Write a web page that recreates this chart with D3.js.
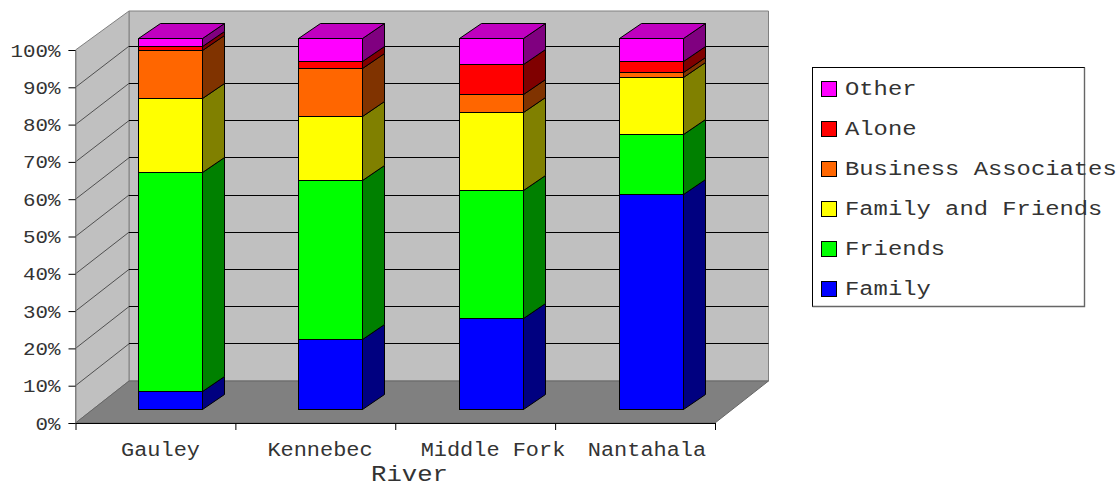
<!DOCTYPE html>
<html>
<head>
<meta charset="utf-8">
<title>River trip companions</title>
<script src="https://cdn.jsdelivr.net/npm/d3@7"></script>
<style>
    html, body { margin: 0; padding: 0; background: #fff; overflow: hidden; }
    text { font-family: "Liberation Mono", monospace; fill: #333; }
</style>
</head>
<body>
<script>
const rivers = ['Gauley', 'Kennebec', 'Middle Fork', 'Nantahala']
const groups = ['Family', 'Friends', 'Family and Friends', 'Business Associates', 'Alone', 'Other']

// share of each group per river, in percent
const family = [4.9, 18.8, 24.6, 58.0]
const friends = [59.0, 43.0, 34.5, 16.2]
const familyAndFriends = [19.9, 17.2, 21.0, 15.3]
const business = [12.9, 12.9, 4.8, 1.3]
const alone = [1.1, 1.9, 8.1, 3.0]
const other = [2.2, 6.2, 7.0, 6.2]

const percentTicks = [0, 10, 20, 30, 40, 50, 60, 70, 80, 90, 100]

const front_colors = ['#0000ff', '#00ff00', '#ffff00', '#ff6600', '#ff0000', '#ff00ff']
const side_colors = ['#000080', '#008000', '#808000', '#803300', '#800000', '#800080']
const top_color = '#c000c0'

const w = 1119, h = 483

// the box: front edge of the floor and how far the back wall is pushed away
const box = {left: 75.5, right: 715, floor: 423, top: 50, dx: 53.5, dy: -42, wallTop: 11}
const bar_depth = {dx: 22, dy: -15}

const svg = d3.select('body').append('svg')
    .attr('width', w)
    .attr('height', h)
    .style('display', 'block')

// monospace glyphs here are wider than the font's own pitch
function fit(sel, pitch) {
    sel.attr('textLength', function() { return this.textContent.length * pitch })
        .attr('lengthAdjust', 'spacingAndGlyphs')
}

function poly(pts) {
    return 'M' + pts.map(p => p.join(',')).join('L') + 'Z'
}

// keep 1px strokes on the pixel grid
function snap(v) {
    return Math.floor(v) + 0.5
}

let y_front = d3.scaleLinear().domain([0, 100]).range([box.floor, box.top])
let y_back = d3.scaleLinear().domain([0, 100]).range([box.floor + box.dy, 9])
let y_bar = d3.scaleLinear().domain([0, 100]).range([409.7, 38.3])

let x_axis = d3.scaleLinear().domain([0, rivers.length]).range([box.left, box.right])
let x_bar = d3.scaleBand().domain(rivers).range([90.2, 731.8]).paddingInner(0.6).paddingOuter(0.3)

const backLeft = box.left + box.dx
const backRight = box.right + box.dx
const backFloor = box.floor + box.dy

// walls and floor
svg.append('path')
    .attr('d', poly([[backLeft, box.wallTop], [backRight, box.wallTop], [backRight, backFloor], [backLeft, backFloor]]))
    .attr('fill', '#c0c0c0')
    .attr('stroke', '#808080')
    .attr('stroke-width', 1)

svg.append('path')
    .attr('d', poly([[box.left, box.top], [backLeft, box.wallTop], [backLeft, backFloor], [box.left, box.floor]]))
    .attr('fill', '#c0c0c0')
    .attr('stroke', '#808080')
    .attr('stroke-width', 1)

svg.append('path')
    .attr('d', poly([[box.left, box.floor], [box.right, box.floor], [backRight, backFloor], [backLeft, backFloor]]))
    .attr('fill', '#808080')
    .attr('stroke', '#666')
    .attr('stroke-width', 1)

// gridlines, along the left wall and then across the back
const inner = percentTicks.filter(d => d > 0 && d < 100)

svg.append('g').selectAll('line')
    .data(inner)
    .enter().append('line')
    .attr('x1', box.left)
    .attr('y1', d => y_front(d))
    .attr('x2', backLeft)
    .attr('y2', d => y_back(d))
    .attr('stroke', '#333')
    .attr('stroke-width', 0.8)

svg.append('g').selectAll('line')
    .data(inner)
    .enter().append('line')
    .attr('x1', backLeft)
    .attr('y1', d => snap(y_back(d)))
    .attr('x2', backRight)
    .attr('y2', d => snap(y_back(d)))
    .attr('stroke', '#000')
    .attr('stroke-width', 1)

// stacked columns
const rows = rivers.map((r, i) => ({
    river: r,
    'Family': family[i],
    'Friends': friends[i],
    'Family and Friends': familyAndFriends[i],
    'Business Associates': business[i],
    'Alone': alone[i],
    'Other': other[i],
}))

const stacked = d3.stack().keys(groups)(rows)

stacked.forEach((layer, k) => {
    let g = svg.append('g').attr('class', 'layer')

    layer.forEach(d => {
        let x0 = snap(x_bar(d.data.river))
        let x1 = x0 + Math.round(x_bar.bandwidth())
        let y0 = snap(y_bar(d[0]))
        let y1 = snap(y_bar(d[1]))

        g.append('path')
            .attr('d', poly([[x1, y0], [x1 + bar_depth.dx, y0 + bar_depth.dy], [x1 + bar_depth.dx, y1 + bar_depth.dy], [x1, y1]]))
            .attr('fill', side_colors[k])
            .attr('stroke', '#000')
            .attr('stroke-width', 1)

        g.append('rect')
            .attr('x', x0)
            .attr('y', y1)
            .attr('width', x1 - x0)
            .attr('height', y0 - y1)
            .attr('fill', front_colors[k])
            .attr('stroke', '#000')
            .attr('stroke-width', 1)

        // only the uppermost group shows a lid
        if (k === stacked.length - 1) {
            g.append('path')
                .attr('d', poly([[x0, y1], [x0 + bar_depth.dx, y1 + bar_depth.dy], [x1 + bar_depth.dx, y1 + bar_depth.dy], [x1, y1]]))
                .attr('fill', top_color)
                .attr('stroke', '#000')
                .attr('stroke-width', 1)
        }
    })
})

// value axis
let y_axis_g = svg.append('g')
    .attr('transform', `translate(${box.left},0)`)
    .call(d3.axisLeft(y_front).tickValues(percentTicks).tickSize(7).tickPadding(8).tickFormat(d => d + '%'))

y_axis_g.select('.domain').attr('stroke', '#808080')
y_axis_g.selectAll('text')
    .attr('font-size', 19)
    .attr('font-family', '"Liberation Mono", monospace')
    .call(fit, 12.5)

// category axis, ticks sit between the columns
let x_axis_g = svg.append('g')
    .attr('transform', `translate(0,${box.floor})`)
    .call(d3.axisBottom(x_axis).tickValues(d3.range(rivers.length + 1)).tickSize(7).tickSizeOuter(0).tickFormat(''))

x_axis_g.select('.domain').attr('stroke', '#000')

const label_x = [160.5, 320, 493, 647]

svg.append('g').selectAll('text')
    .data(rivers)
    .enter().append('text')
    .attr('x', (d, i) => label_x[i])
    .attr('y', 456)
    .attr('text-anchor', 'middle')
    .attr('font-size', 19.5)
    .text(d => d)
    .call(fit, 13.15)

svg.append('text')
    .attr('x', 409.5)
    .attr('y', 481)
    .attr('text-anchor', 'middle')
    .attr('font-size', 22)
    .text('River')
    .call(fit, 15.4)

// legend, upper group first
let legend = svg.append('g').attr('class', 'legend')

legend.append('rect')
    .attr('x', 812.5)
    .attr('y', 67.5)
    .attr('width', 272)
    .attr('height', 239)
    .attr('fill', '#fff')
    .attr('stroke', '#000')
    .attr('stroke-width', 1)

// softer right and bottom edge
legend.append('path')
    .attr('d', 'M1084.5,67.5V306.5H812.5')
    .attr('fill', 'none')
    .attr('stroke', '#666')
    .attr('stroke-width', 1.4)

const legend_rows = groups.map((g, k) => ({name: g, k: k})).reverse()

legend_rows.forEach((d, i) => {
    let yy = 89 + i * 40

    legend.append('rect')
        .attr('x', 821.5)
        .attr('y', yy - 7.5)
        .attr('width', 15)
        .attr('height', 15)
        .attr('fill', front_colors[d.k])
        .attr('stroke', '#000')
        .attr('stroke-width', 1)

    legend.append('text')
        .attr('x', 845)
        .attr('y', yy + 6)
        .attr('font-size', 20)
        .text(d.name)
        .call(fit, 14.3)
})
</script>
</body>
</html>
